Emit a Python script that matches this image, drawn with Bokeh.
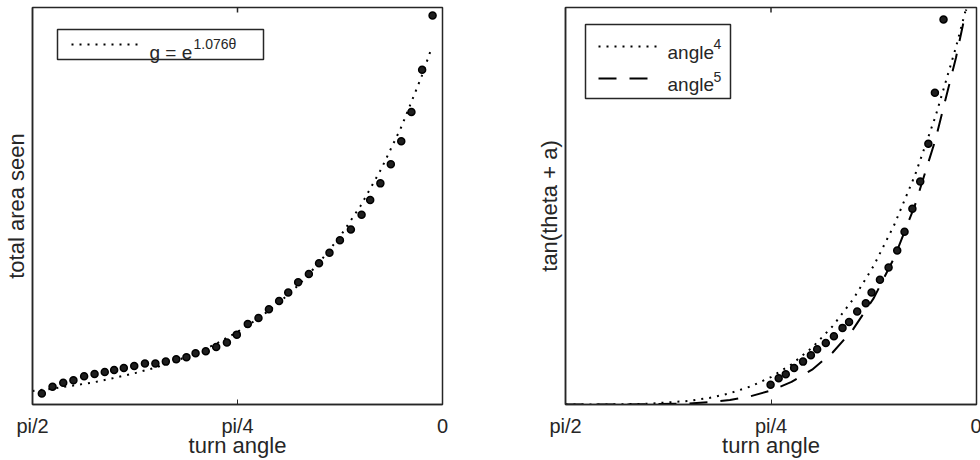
import math
from bokeh.plotting import figure
from bokeh.models import Range1d, FixedTicker, Label
from bokeh.layouts import row
from bokeh.embed import file_html
from bokeh.resources import INLINE

PI = math.pi

# ---------------- data ----------------
x_tick_values = [PI / 2, PI / 4, 0.0]
x_tick_labels = ["pi/2", "pi/4", "0"]

# left panel: total area seen vs turn angle (radians)
left_angle = [1.535, 1.494, 1.453, 1.414, 1.373, 1.333, 1.294, 1.258, 1.221, 1.181,
              1.140, 1.100, 1.060, 1.020, 0.981, 0.946, 0.907, 0.867, 0.826, 0.788,
              0.746, 0.705, 0.665, 0.626, 0.591, 0.553, 0.512, 0.473, 0.433, 0.393,
              0.351, 0.310, 0.277, 0.238, 0.198, 0.158, 0.119, 0.078, 0.038]
left_area = [0.028, 0.045, 0.055, 0.061, 0.071, 0.077, 0.082, 0.087, 0.092, 0.097,
             0.103, 0.103, 0.108, 0.114, 0.119, 0.129, 0.134, 0.145, 0.156, 0.176,
             0.203, 0.218, 0.240, 0.261, 0.282, 0.308, 0.329, 0.356, 0.382, 0.414,
             0.441, 0.478, 0.515, 0.557, 0.605, 0.663, 0.737, 0.843, 0.980]

# left panel fit g = e^(1.076 theta)
left_fit_angle = [1.5708, 1.4923, 1.4137, 1.3352, 1.2566, 1.1781, 1.0996, 1.0210,
                  0.9425, 0.8639, 0.7854, 0.7069, 0.6283, 0.5498, 0.4712, 0.3927,
                  0.3142, 0.2356, 0.1571, 0.0785, 0.0471]
left_fit_value = [0.034, 0.040, 0.048, 0.056, 0.067, 0.079, 0.093, 0.110,
                  0.130, 0.154, 0.183, 0.216, 0.255, 0.302, 0.358, 0.423,
                  0.500, 0.592, 0.700, 0.829, 0.888]

# right panel: tan(theta + a) vs turn angle
right_angle = [0.787, 0.756, 0.729, 0.697, 0.663, 0.633, 0.609, 0.576, 0.545, 0.512,
               0.487, 0.456, 0.423, 0.401, 0.369, 0.336, 0.303, 0.275, 0.245, 0.215,
               0.184, 0.159, 0.126]
right_value = [0.050, 0.066, 0.076, 0.092, 0.108, 0.124, 0.139, 0.155, 0.172, 0.193,
               0.208, 0.234, 0.255, 0.282, 0.314, 0.345, 0.388, 0.435, 0.493, 0.562,
               0.657, 0.785, 0.970]

curve_angle = [1.5708, 1.4137, 1.2566, 1.0996, 1.0210, 0.9425, 0.8639, 0.7854, 0.7069,
               0.6283, 0.5498, 0.4712, 0.3927, 0.3142, 0.2356, 0.1571, 0.0785, 0.0393]
curve_pow4 = [0.0, 0.0001, 0.0018, 0.0090, 0.0166, 0.0283, 0.0453, 0.0691, 0.1011,
              0.1432, 0.1973, 0.2653, 0.3496, 0.4526, 0.5768, 0.7250, 0.9000, 0.9986]
curve_pow5 = [0.0, 0.00001, 0.00036, 0.0027, 0.0059, 0.0116, 0.0208, 0.0353, 0.0568,
              0.0878, 0.1310, 0.1898, 0.2679, 0.3700, 0.5010, 0.6667, 0.8736, 0.9950]

# ---------------- style ----------------
FONT = "Liberation Sans"
TXT = "#262626"
FRAME_H = 397
DOT = "2 6"
DASH = "18 13"


def fx(frame_w, px):
    # frame-relative pixel (from left) -> data x (reversed range pi/2..0)
    return PI / 2 * (1 - px / frame_w)


def fy(py):
    # frame-relative pixel (from top) -> data y
    return 1 - py / FRAME_H


def make_fig(frame_w, ylabel, border_right):
    p = figure(frame_width=frame_w, frame_height=FRAME_H,
               x_range=Range1d(PI / 2, 0), y_range=Range1d(0, 1),
               output_backend="svg", toolbar_location=None,
               min_border_left=27, min_border_right=border_right,
               min_border_top=7, min_border_bottom=0,
               background_fill_color="white", border_fill_color="white")
    p.xgrid.visible = False
    p.ygrid.visible = False
    p.outline_line_color = TXT
    p.outline_line_width = 1.5
    p.outline_line_alpha = 1.0

    xa = p.xaxis[0]
    xa.ticker = FixedTicker(ticks=x_tick_values)
    xa.major_label_overrides = {v: t for v, t in zip(x_tick_values, x_tick_labels)}
    xa.major_tick_in = 5
    xa.major_tick_out = 0
    xa.minor_tick_in = 0
    xa.minor_tick_out = 0
    xa.major_tick_line_color = TXT
    xa.axis_line_color = TXT
    xa.axis_line_width = 1.5
    xa.major_label_text_font = FONT
    xa.major_label_text_font_size = "20px"
    xa.major_label_text_color = TXT
    xa.major_label_standoff = 10
    xa.axis_label = "turn angle"
    xa.axis_label_text_font = FONT
    xa.axis_label_text_font_size = "22px"
    xa.axis_label_text_font_style = "normal"
    xa.axis_label_text_color = TXT
    xa.axis_label_standoff = -7

    ya = p.yaxis[0]
    ya.ticker = FixedTicker(ticks=[])
    ya.major_tick_in = 0
    ya.major_tick_out = 0
    ya.minor_tick_in = 0
    ya.minor_tick_out = 0
    ya.axis_line_color = TXT
    ya.axis_line_width = 1.5
    ya.axis_label = ylabel
    ya.axis_label_text_font = FONT
    ya.axis_label_text_font_size = "22px"
    ya.axis_label_text_font_style = "normal"
    ya.axis_label_text_color = TXT
    ya.axis_label_standoff = 4

    # mirrored tick at pi/4 on the top edge of the frame
    p.segment(x0=[x_tick_values[1]], y0=[1.0], x1=[x_tick_values[1]], y1=[fy(5)],
              line_color=TXT, line_width=1.5)
    return p


# ---------------- left panel ----------------
W1 = 410
p1 = make_fig(W1, "total area seen", 91)
p1.line(left_fit_angle, left_fit_value, line_color="black", line_width=2,
        line_dash=DOT)
p1.scatter(left_angle, left_area, size=7, marker="circle", fill_color="#1e1e1e",
           line_color="black", line_width=1.5)

# legend
p1.quad(left=[fx(W1, 25)], right=[fx(W1, 231)], top=[fy(22)], bottom=[fy(52)],
        fill_color="white", line_color=TXT, line_width=1.5)
p1.line([fx(W1, 39), fx(W1, 107)], [fy(37), fy(37)], line_color="black", line_width=2,
        line_dash=DOT)
p1.add_layout(Label(x=fx(W1, 117), y=fy(45), text="g = e", text_font=FONT,
                    text_font_size="19px", text_color=TXT, text_baseline="alphabetic",
                    text_align="left"))
p1.add_layout(Label(x=fx(W1, 161), y=fy(36.5), text="1.076\u03b8", text_font=FONT,
                    text_font_size="14px", text_color=TXT, text_baseline="alphabetic",
                    text_align="left"))

# ---------------- right panel ----------------
W2 = 411
p2 = make_fig(W2, "tan(theta + a)", 5)
p2.line(curve_angle, curve_pow4, line_color="black", line_width=2, line_dash=DOT)
p2.line(curve_angle, curve_pow5, line_color="black", line_width=2, line_dash=DASH)
p2.scatter(right_angle, right_value, size=7, marker="circle", fill_color="#1e1e1e",
           line_color="black", line_width=1.5)

# legend
p2.quad(left=[fx(W2, 20)], right=[fx(W2, 165)], top=[fy(17)], bottom=[fy(91)],
        fill_color="white", line_color=TXT, line_width=1.5)
p2.line([fx(W2, 33), fx(W2, 93)], [fy(39), fy(39)], line_color="black", line_width=2,
        line_dash=DOT)
p2.line([fx(W2, 33), fx(W2, 93)], [fy(71), fy(71)], line_color="black", line_width=2,
        line_dash=DASH)
for yb, sup_b, sup in [(45, 36.7, "4"), (77.3, 69.3, "5")]:
    p2.add_layout(Label(x=fx(W2, 102), y=fy(yb), text="angle", text_font=FONT,
                        text_font_size="19px", text_color=TXT, text_baseline="alphabetic",
                        text_align="left"))
    p2.add_layout(Label(x=fx(W2, 148), y=fy(sup_b), text=sup, text_font=FONT,
                        text_font_size="14px", text_color=TXT, text_baseline="alphabetic",
                        text_align="left"))

layout = row(p1, p2)
open("out.html", "w").write(file_html(layout, INLINE))
